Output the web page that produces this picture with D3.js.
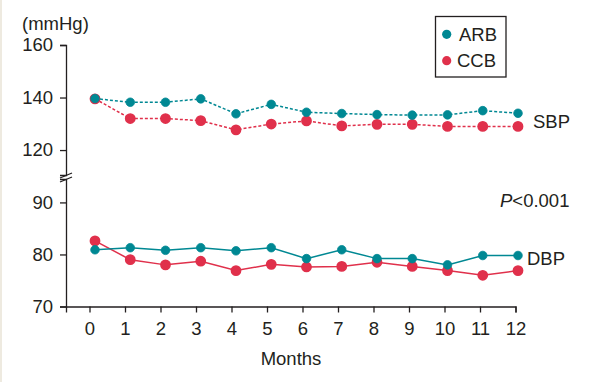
<!DOCTYPE html>
<html>
<head>
<meta charset="utf-8">
<script src="https://cdn.jsdelivr.net/npm/d3@7"></script>
<style>
  body { margin: 0; background: #fff; }
  svg { display: block; font-family: "Liberation Sans", Arial, sans-serif; }
  .axis text { font-size: 18.5px; fill: #231f20; }
  .axis path, .axis line { stroke: #231f20; stroke-width: 1.3; }
</style>
</head>
<body>
<div id="chart"></div>
<script>
// months and mean blood pressure values (mmHg)
const months = [0, 1, 2, 3, 4, 5, 6, 7, 8, 9, 10, 11, 12];
const arbSBP = [139.6, 138.2, 138.2, 139.5, 133.8, 137.4, 134.4, 133.9, 133.5, 133.3, 133.4, 135.0, 134.0];
const ccbSBP = [139.5, 132.0, 132.0, 131.2, 127.7, 129.9, 131.1, 129.2, 129.8, 129.8, 129.0, 129.0, 129.0];
const arbDBP = [80.9, 81.3, 80.8, 81.3, 80.7, 81.3, 79.2, 80.9, 79.2, 79.2, 78.0, 79.8, 79.8];
const ccbDBP = [82.6, 79.0, 78.0, 78.7, 76.9, 78.1, 77.6, 77.7, 78.5, 77.7, 76.9, 76.0, 76.9];
const upperTicks = [120, 140, 160];
const lowerTicks = [70, 80, 90];
const seriesNames = ['ARB', 'CCB'];

const width = 593, height = 382;
const teal = '#008893', red = '#e0304b';

const svg = d3.select('#chart').append('svg')
    .attr('width', width)
    .attr('height', height);

svg.append('rect').attr('x', 0).attr('y', 0).attr('width', 2).attr('height', height).attr('fill', '#eeeae0');

// scales
const x = d3.scaleLinear().domain([-0.662, 12]).range([66, 515.5]);
const xPt = d3.scaleLinear().domain([0, 12]).range([95, 518]);
const yTop = d3.scaleLinear().domain([110.5, 160]).range([175, 45]);
const yBot = d3.scaleLinear().domain([70, 94.5]).range([306.5, 179]);

// axes
svg.append('g')
    .attr('class', 'axis axis--x')
    .attr('transform', 'translate(0,306.5)')
    .call(d3.axisBottom(x).tickValues(months).tickSizeOuter(0).tickSize(6).tickPadding(9));

svg.append('g')
    .attr('class', 'axis axis--y')
    .attr('transform', 'translate(66,0)')
    .call(d3.axisLeft(yTop).tickValues(upperTicks).tickSizeOuter(0).tickSize(6).tickPadding(7));

svg.append('g')
    .attr('class', 'axis axis--y')
    .attr('transform', 'translate(66,0)')
    .call(d3.axisLeft(yBot).tickValues(lowerTicks).tickSizeOuter(0).tickSize(6).tickPadding(7));

svg.selectAll('.axis .domain').attr('stroke-width', 1.5);

// axis break marks
[175, 179].forEach(yy => {
  svg.append('line')
      .attr('x1', 60).attr('y1', yy + 3)
      .attr('x2', 72).attr('y2', yy - 2)
      .attr('stroke', '#231f20').attr('stroke-width', 1.3);
});

// labels
svg.append('text').attr('x', 22).attr('y', 30)
    .style('font-size', '18.5px').attr('fill', '#231f20').text('(mmHg)');
svg.append('text').attr('x', 291).attr('y', 365).attr('text-anchor', 'middle')
    .style('font-size', '18.5px').attr('fill', '#231f20').text('Months');
svg.append('text').attr('x', 533).attr('y', 128)
    .style('font-size', '18.5px').attr('fill', '#231f20').text('SBP');
svg.append('text').attr('x', 527).attr('y', 265)
    .style('font-size', '18.5px').attr('fill', '#231f20').text('DBP');
const p = svg.append('text').attr('x', 500).attr('y', 207)
    .style('font-size', '18.5px').attr('fill', '#231f20');
p.append('tspan').style('font-style', 'italic').text('P');
p.append('tspan').text('<0.001');

// series
function drawSeries(values, yScale, color, dashed, r, strokeW) {
  const line = d3.line()
      .x((d, i) => xPt(months[i]))
      .y(d => yScale(d));
  svg.append('path')
      .datum(values)
      .attr('fill', 'none')
      .attr('stroke', color)
      .attr('stroke-width', 1.5)
      .attr('stroke-dasharray', dashed ? '3,2' : null)
      .attr('d', line);
  svg.append('g').selectAll('circle')
      .data(values)
      .enter().append('circle')
      .attr('cx', (d, i) => xPt(months[i]))
      .attr('cy', d => yScale(d))
      .attr('r', r)
      .attr('fill', color)
      .attr('stroke', color)
      .attr('stroke-width', strokeW);
}

drawSeries(ccbSBP, yTop, red, true, 4.6, 1.6);
drawSeries(arbSBP, yTop, teal, true, 4.3, 0.8);
drawSeries(ccbDBP, yBot, red, false, 4.6, 1.6);
drawSeries(arbDBP, yBot, teal, false, 4.3, 0.8);

// legend
const legend = svg.append('g');
legend.append('rect')
    .attr('x', 435.5).attr('y', 16.5).attr('width', 70.5).attr('height', 60.5)
    .attr('fill', '#fff').attr('stroke', '#231f20').attr('stroke-width', 1.3);
seriesNames.forEach((name, i) => {
  legend.append('circle')
      .attr('cx', 446.7).attr('cy', 34.3 + i * 26.4).attr('r', 4.6)
      .attr('fill', i === 0 ? teal : red);
  legend.append('text')
      .attr('x', i === 0 ? 459 : 457).attr('y', 40.5 + i * 26.4)
      .style('font-size', '18.5px').attr('fill', '#231f20').text(name);
});
</script>
</body>
</html>
